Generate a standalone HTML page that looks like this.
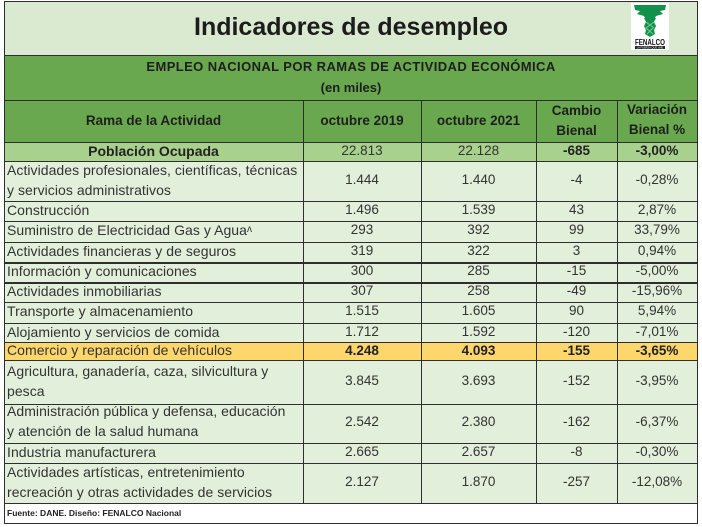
<!DOCTYPE html>
<html><head><meta charset="utf-8">
<style>
*{margin:0;padding:0;box-sizing:border-box}
html,body{width:702px;height:527px;background:#fff;overflow:hidden}
#c{position:absolute;left:0;top:0;width:702px;height:527px;font-family:"Liberation Sans",sans-serif;color:#333}
.bg{position:absolute}
.h{position:absolute;height:1px;background:#2e2e2e;left:4px;width:694px}
.v{position:absolute;width:1px;background:#2e2e2e}
.cell{position:absolute;display:flex;align-items:center;justify-content:center;text-align:center;line-height:20px;font-size:13.5px;white-space:nowrap;padding-bottom:3px}
.lab{justify-content:flex-start;text-align:left;padding-left:3px;font-size:14px;letter-spacing:0.05px}
.b{font-weight:bold}
.hd{font-weight:bold;font-size:13.5px;color:#1e1e1e;padding-bottom:0}
</style></head><body><div id="c">
<!-- backgrounds -->
<div class="bg" style="left:4px;top:1px;width:694px;height:54px;background:#d9ead1"></div>
<div class="bg" style="left:4px;top:55px;width:694px;height:87px;background:#6aa84f"></div>
<div class="bg" style="left:4px;top:142px;width:694px;height:20px;background:#a9d18e"></div>
<div class="bg" style="left:4px;top:162px;width:694px;height:341px;background:#e2efda"></div>
<div class="bg" style="left:4px;top:343px;width:694px;height:17px;background:#fdd66c"></div>

<!-- title -->
<div style="position:absolute;left:4px;top:10px;width:694px;text-align:center;font-weight:bold;font-size:25px;line-height:34px;color:#1c1c1c">Indicadores de desempleo</div>
<!-- logo -->
<svg style="position:absolute;left:631px;top:3px" width="38" height="47" viewBox="0 0 38 47">
<rect x="0" y="0" width="38" height="47" fill="#fff"/>
<polygon points="3,2 35,2 34,7 29,8 32,11 25,13 23,17 15,17 13,13 6,11 9,8 4,7" fill="#12914a"/>
<polygon points="13,15 25,15 23,19 25,23 23,27 24,31 19,34 14,31 15,27 13,23 15,19" fill="#12914a"/>
<path d="M15,19 L23,25 M23,19 L15,25 M15,25 L22,31 M22,25 L16,31" stroke="#7cc98f" stroke-width="1"/>
<text x="19" y="42" text-anchor="middle" font-family="Liberation Sans,sans-serif" font-weight="bold" font-size="8" fill="#111" textLength="30" lengthAdjust="spacingAndGlyphs">FENALCO</text>
<rect x="4" y="43" width="30" height="3" fill="#222"/>
<text x="19" y="45.5" text-anchor="middle" font-family="Liberation Sans,sans-serif" font-size="2.6" fill="#fff">LA FUERZA QUE UNE</text>
</svg>

<!-- band -->
<div class="cell" style="left:4px;top:56px;width:694px;height:21px;font-weight:bold;font-size:13px;letter-spacing:0.4px;color:#1e1e1e;padding-bottom:0">EMPLEO NACIONAL POR RAMAS DE ACTIVIDAD ECONÓMICA</div>
<div class="cell" style="left:4px;top:77px;width:694px;height:21px;font-weight:bold;font-size:13px;color:#1e1e1e;padding-bottom:0">(en miles)</div>

<!-- header -->
<div class="cell hd" style="left:4px;top:100px;width:299px;height:42px">Rama de la Actividad</div>
<div class="cell hd" style="left:303px;top:100px;width:118px;height:42px">octubre 2019</div>
<div class="cell hd" style="left:421px;top:100px;width:115px;height:42px">octubre 2021</div>
<div class="cell hd" style="left:536px;top:100px;width:81px;height:42px">Cambio<br>Bienal</div>
<div class="cell hd" style="left:617px;top:99px;width:80px;height:42px">Variación<br>Bienal %</div>

<!-- Poblacion -->
<div class="cell b" style="left:4px;top:142px;width:299px;height:20px;font-size:14px;color:#222">Población Ocupada</div>
<div class="cell" style="left:303px;top:142px;width:118px;height:20px">22.813</div>
<div class="cell" style="left:421px;top:142px;width:115px;height:20px">22.128</div>
<div class="cell b" style="left:536px;top:142px;width:81px;height:20px;color:#222">-685</div>
<div class="cell b" style="left:617px;top:142px;width:80px;height:20px;color:#222">-3,00%</div>

<!-- rows -->
<div class="cell lab" style="left:4px;top:162px;width:299px;height:39px">Actividades profesionales, científicas, técnicas<br>y servicios administrativos</div>
<div class="cell" style="left:303px;top:162px;width:118px;height:39px">1.444</div>
<div class="cell" style="left:421px;top:162px;width:115px;height:39px">1.440</div>
<div class="cell" style="left:536px;top:162px;width:81px;height:39px">-4</div>
<div class="cell" style="left:617px;top:162px;width:80px;height:39px">-0,28%</div>

<div class="cell lab" style="left:4px;top:201px;width:299px;height:20px">Construcción</div>
<div class="cell" style="left:303px;top:201px;width:118px;height:20px">1.496</div>
<div class="cell" style="left:421px;top:201px;width:115px;height:20px">1.539</div>
<div class="cell" style="left:536px;top:201px;width:81px;height:20px">43</div>
<div class="cell" style="left:617px;top:201px;width:80px;height:20px">2,87%</div>

<div class="cell lab" style="left:4px;top:221px;width:299px;height:21px">Suministro de Electricidad Gas y Agua<span style="font-size:10px">ʌ</span></div>
<div class="cell" style="left:303px;top:221px;width:118px;height:21px">293</div>
<div class="cell" style="left:421px;top:221px;width:115px;height:21px">392</div>
<div class="cell" style="left:536px;top:221px;width:81px;height:21px">99</div>
<div class="cell" style="left:617px;top:221px;width:80px;height:21px">33,79%</div>

<div class="cell lab" style="left:4px;top:242px;width:299px;height:20px">Actividades financieras y de seguros</div>
<div class="cell" style="left:303px;top:242px;width:118px;height:20px">319</div>
<div class="cell" style="left:421px;top:242px;width:115px;height:20px">322</div>
<div class="cell" style="left:536px;top:242px;width:81px;height:20px">3</div>
<div class="cell" style="left:617px;top:242px;width:80px;height:20px">0,94%</div>

<div class="cell lab" style="left:4px;top:262px;width:299px;height:20px">Información y comunicaciones</div>
<div class="cell" style="left:303px;top:262px;width:118px;height:20px">300</div>
<div class="cell" style="left:421px;top:262px;width:115px;height:20px">285</div>
<div class="cell" style="left:536px;top:262px;width:81px;height:20px">-15</div>
<div class="cell" style="left:617px;top:262px;width:80px;height:20px">-5,00%</div>

<div class="cell lab" style="left:4px;top:282px;width:299px;height:20px">Actividades inmobiliarias</div>
<div class="cell" style="left:303px;top:282px;width:118px;height:20px">307</div>
<div class="cell" style="left:421px;top:282px;width:115px;height:20px">258</div>
<div class="cell" style="left:536px;top:282px;width:81px;height:20px">-49</div>
<div class="cell" style="left:617px;top:282px;width:80px;height:20px">-15,96%</div>

<div class="cell lab" style="left:4px;top:302px;width:299px;height:21px">Transporte y almacenamiento</div>
<div class="cell" style="left:303px;top:302px;width:118px;height:21px">1.515</div>
<div class="cell" style="left:421px;top:302px;width:115px;height:21px">1.605</div>
<div class="cell" style="left:536px;top:302px;width:81px;height:21px">90</div>
<div class="cell" style="left:617px;top:302px;width:80px;height:21px">5,94%</div>

<div class="cell lab" style="left:4px;top:323px;width:299px;height:20px">Alojamiento y servicios de comida</div>
<div class="cell" style="left:303px;top:323px;width:118px;height:20px">1.712</div>
<div class="cell" style="left:421px;top:323px;width:115px;height:20px">1.592</div>
<div class="cell" style="left:536px;top:323px;width:81px;height:20px">-120</div>
<div class="cell" style="left:617px;top:323px;width:80px;height:20px">-7,01%</div>

<div class="cell lab" style="left:4px;top:342px;width:299px;height:18px">Comercio y reparación de vehículos</div>
<div class="cell b" style="left:303px;top:343px;width:118px;height:18px;color:#222">4.248</div>
<div class="cell b" style="left:421px;top:343px;width:115px;height:18px;color:#222">4.093</div>
<div class="cell b" style="left:536px;top:343px;width:81px;height:18px;color:#222">-155</div>
<div class="cell b" style="left:617px;top:343px;width:80px;height:18px;color:#222">-3,65%</div>

<div class="cell lab" style="left:4px;top:360px;width:299px;height:44px">Agricultura, ganadería, caza, silvicultura y<br>pesca</div>
<div class="cell" style="left:303px;top:360px;width:118px;height:44px">3.845</div>
<div class="cell" style="left:421px;top:360px;width:115px;height:44px">3.693</div>
<div class="cell" style="left:536px;top:360px;width:81px;height:44px">-152</div>
<div class="cell" style="left:617px;top:360px;width:80px;height:44px">-3,95%</div>

<div class="cell lab" style="left:4px;top:403px;width:299px;height:39px">Administración pública y defensa, educación<br>y atención de la salud humana</div>
<div class="cell" style="left:303px;top:404px;width:118px;height:39px">2.542</div>
<div class="cell" style="left:421px;top:404px;width:115px;height:39px">2.380</div>
<div class="cell" style="left:536px;top:404px;width:81px;height:39px">-162</div>
<div class="cell" style="left:617px;top:404px;width:80px;height:39px">-6,37%</div>

<div class="cell lab" style="left:4px;top:443px;width:299px;height:20px">Industria manufacturera</div>
<div class="cell" style="left:303px;top:443px;width:118px;height:20px">2.665</div>
<div class="cell" style="left:421px;top:443px;width:115px;height:20px">2.657</div>
<div class="cell" style="left:536px;top:443px;width:81px;height:20px">-8</div>
<div class="cell" style="left:617px;top:443px;width:80px;height:20px">-0,30%</div>

<div class="cell lab" style="left:4px;top:463px;width:299px;height:40px">Actividades artísticas, entretenimiento<br>recreación y otras actividades de servicios</div>
<div class="cell" style="left:303px;top:463px;width:118px;height:40px">2.127</div>
<div class="cell" style="left:421px;top:463px;width:115px;height:40px">1.870</div>
<div class="cell" style="left:536px;top:463px;width:81px;height:40px">-257</div>
<div class="cell" style="left:617px;top:463px;width:80px;height:40px">-12,08%</div>

<!-- footer -->
<div style="position:absolute;left:7px;top:507px;font-size:8.5px;font-weight:bold;line-height:12px;color:#222">Fuente: DANE. Diseño: FENALCO Nacional</div>

<!-- horizontal lines -->
<div class="h" style="top:1px"></div>
<div class="h" style="top:55px"></div>
<div class="h" style="top:100px"></div>
<div class="h" style="top:142px"></div>
<div class="h" style="top:161px"></div>
<div class="h" style="top:201px"></div>
<div class="h" style="top:221px"></div>
<div class="h" style="top:242px"></div>
<div class="h" style="top:262px;height:2px"></div>
<div class="h" style="top:282px;height:2px"></div>
<div class="h" style="top:302px"></div>
<div class="h" style="top:323px"></div>
<div class="h" style="top:342px"></div>
<div class="h" style="top:360px"></div>
<div class="h" style="top:404px"></div>
<div class="h" style="top:443px"></div>
<div class="h" style="top:463px"></div>
<div class="h" style="top:503px"></div>
<div class="h" style="top:523px"></div>
<!-- vertical lines -->
<div class="v" style="left:4px;top:1px;height:523px"></div>
<div class="v" style="left:697px;top:1px;height:523px"></div>
<div class="v" style="left:303px;top:100px;height:403px"></div>
<div class="v" style="left:421px;top:100px;height:403px"></div>
<div class="v" style="left:536px;top:100px;height:403px"></div>
<div class="v" style="left:617px;top:100px;height:403px"></div>
</div></body></html>
